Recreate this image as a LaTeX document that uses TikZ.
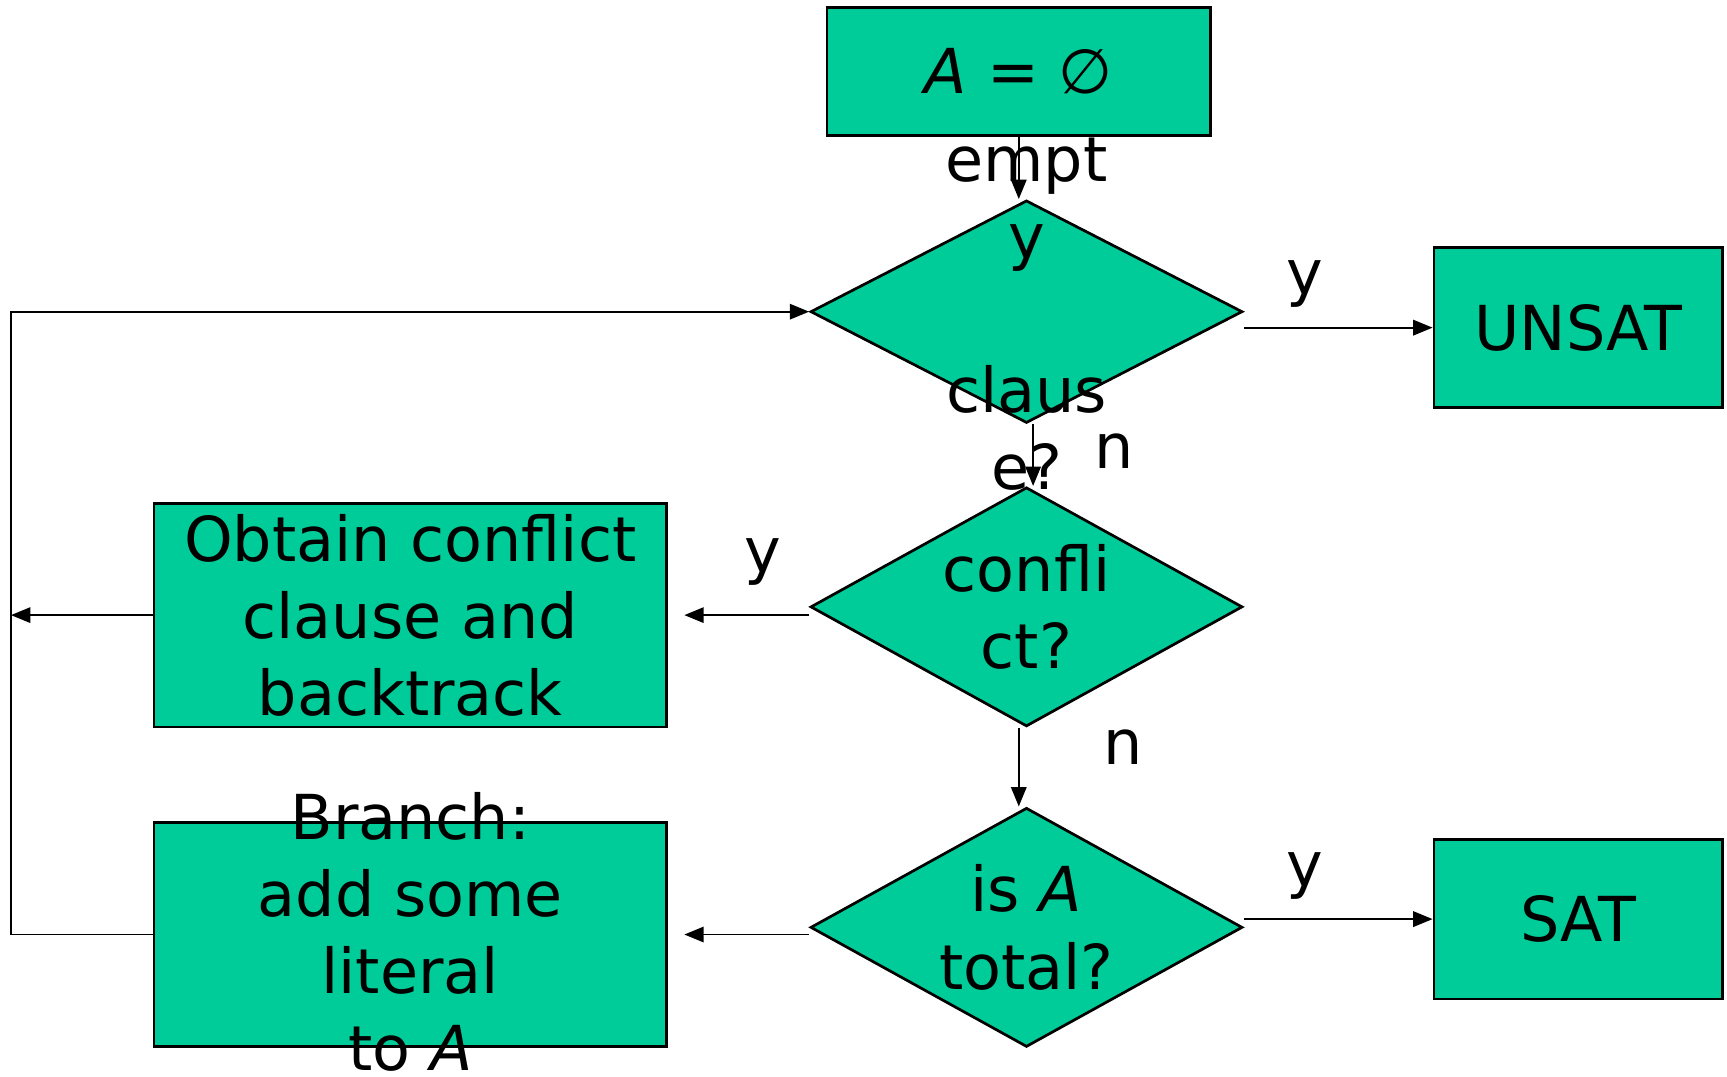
\documentclass[tikz,border=0pt]{standalone}
\usepackage{fontspec}
\setmainfont{DejaVu Sans}
\usetikzlibrary{shapes.geometric}
\usetikzlibrary{arrows.meta}
\usetikzlibrary{positioning}
\definecolor{flowgreen}{RGB}{0,204,153}
\tikzset{
  box/.style={draw,line width=0.7pt,fill=flowgreen,rectangle,inner sep=0pt,align=center},
  test/.style={draw,line width=0.7pt,fill=flowgreen,diamond,inner sep=0pt,minimum width=3.92cm},
  txt/.style={align=center,inner sep=0pt},
  flow/.style={-{Triangle[length=5pt,width=4pt]},line width=0.45pt},
}
\begin{document}
\begin{tikzpicture}[x=0.01cm,y=-0.01cm,every node/.style={font=\fontsize{16}{19.9}\selectfont}]
  \useasboundingbox (0,0) rectangle (1568,977);

  \node[box,minimum width=3.48cm,minimum height=1.16cm] (start) at (925,65) {\textit{A} = ∅};
  \node[test,minimum height=2.02cm] (empty) at (932,283) {};
  \node[test,minimum height=2.17cm] (conflict) at (932,551) {};
  \node[test,minimum height=2.17cm] (total) at (932,842) {};
  \node[box,minimum width=2.62cm,minimum height=1.45cm] (unsat) at (1433,297.5) {UNSAT};
  \node[box,minimum width=2.62cm,minimum height=1.45cm] (sat) at (1433,834.5) {SAT};
  \node[box,minimum width=4.65cm,minimum height=2.03cm] (learn) at (372.5,558.5) {Obtain conflict\\clause and\\backtrack};
  \node[box,minimum width=4.65cm,minimum height=2.03cm] (branch) at (372.5,848.5) {};

  % texts running out of their shapes
  \node[txt] (emptytxt) at (932,285) {empt\\y\\~\\claus\\e?};
  \node[txt] (conflicttxt) at (conflict) {confli\\ct?};
  \node[txt] (totaltxt) at (total) {is \textit{A}\\total?};
  \node[txt] (branchtxt) at (372.5,846) {Branch:\\add some\\literal\\to \textit{A}};

  % answers
  \node (yunsat) at (1185,258) {y};
  \node (nempty) at (1012,410) {n};
  \node (ylearn) at (693,510) {y};
  \node (nconflict) at (1020,678) {n};
  \node (ysat) at (1185,795) {y};

  \coordinate (rail) at (10,283);

  \draw[flow] (start.south) -- (start.south |- empty.north);
  \draw[flow] (empty.east |- unsat.west) -- (unsat.west);
  \draw[flow] ([xshift=0.06cm]empty.south) -- ([xshift=0.06cm]conflict.north);
  \draw[flow,shorten >=0.15cm] (conflict.west |- learn.east) -- (learn.east);
  \draw[flow] ([xshift=-0.07cm]conflict.south) -- ([xshift=-0.07cm]total.north);
  \draw[flow] (total.east |- sat.west) -- (sat.west);
  \draw[flow,shorten >=0.15cm] (total.west |- branch.east) -- (branch.east);
  \draw[flow] (learn.west) -- (learn.west -| rail);
  \draw[flow] (branch.west) -- (branch.west -| rail) -- (rail) -- (empty.west);
\end{tikzpicture}
\end{document}
